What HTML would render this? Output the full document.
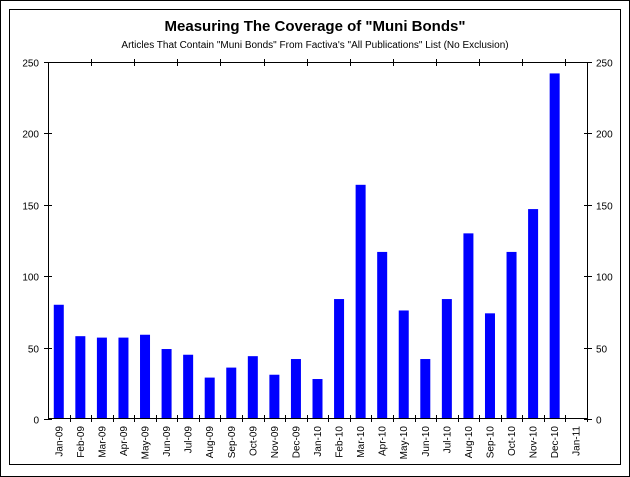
<!DOCTYPE html>
<html><head><style>body{margin:0;background:#fff}svg{display:block}</style></head><body>
<svg width="630" height="477" xmlns="http://www.w3.org/2000/svg" font-family="Liberation Sans, Arial, sans-serif">
<rect x="0.5" y="0.5" width="629" height="476" fill="#fff" stroke="#000"/>
<rect x="9.5" y="9.5" width="611" height="455" fill="#fff" stroke="#000"/>
<text x="315" y="31" text-anchor="middle" font-size="15" font-weight="bold">Measuring The Coverage of "Muni Bonds"</text>
<text x="315" y="48" text-anchor="middle" font-size="10">Articles That Contain "Muni Bonds" From Factiva's "All Publications" List (No Exclusion)</text>
<g id="bars" fill="#0000ff"></g>
<g stroke="#000" fill="none" id="ax">
<line x1="48.5" y1="62" x2="48.5" y2="419"/>
<line x1="587.5" y1="62" x2="587.5" y2="419"/>
<line x1="48" y1="62.5" x2="588" y2="62.5"/>
<line x1="48" y1="418.5" x2="588" y2="418.5"/>
</g>
<g font-size="10" id="lab"></g>
<script>
var v=[80,58,57,57,59,49,45,29,36,44,31,42,28,84,164,117,76,42,84,130,74,117,147,242,0];
var m=["Jan-09","Feb-09","Mar-09","Apr-09","May-09","Jun-09","Jul-09","Aug-09","Sep-09","Oct-09","Nov-09","Dec-09","Jan-10","Feb-10","Mar-10","Apr-10","May-10","Jun-10","Jul-10","Aug-10","Sep-10","Oct-10","Nov-10","Dec-10","Jan-11"];
var ns="http://www.w3.org/2000/svg",b=document.getElementById("bars"),ax=document.getElementById("ax"),lab=document.getElementById("lab");
function el(t,a,p,tx){var e=document.createElementNS(ns,t);for(var k in a)e.setAttribute(k,a[k]);if(tx!==undefined)e.textContent=String(tx);p.appendChild(e);}
var w=539/25;
for(var i=0;i<25;i++){var c=48+w*(i+0.5);var h=v[i]*357/250;
if(h>0)el("rect",{x:c-5,y:419-h,width:10,height:h},b);
var tx=Math.round(48+w*(i+1))+0.5;
el("line",{x1:tx,y1:415,x2:tx,y2:422},ax);
el("text",{x:0,y:0,transform:"translate("+(c+3.5)+",426) rotate(-90)","text-anchor":"end"},lab,m[i]);}
for(var j=2;j<25;j+=2){var tx=Math.round(48+w*j)+0.5;el("line",{x1:tx,y1:59,x2:tx,y2:66},ax);}
for(var k=0;k<=5;k++){var y=Math.round(419-k*50*357/250)+0.5;
el("line",{x1:44,y1:y,x2:52,y2:y},ax);el("line",{x1:584,y1:y,x2:592,y2:y},ax);
el("text",{x:39,y:y+4,"text-anchor":"end"},lab,k*50);el("text",{x:596,y:y+4},lab,k*50);}
</script>
</svg>
</body></html>
